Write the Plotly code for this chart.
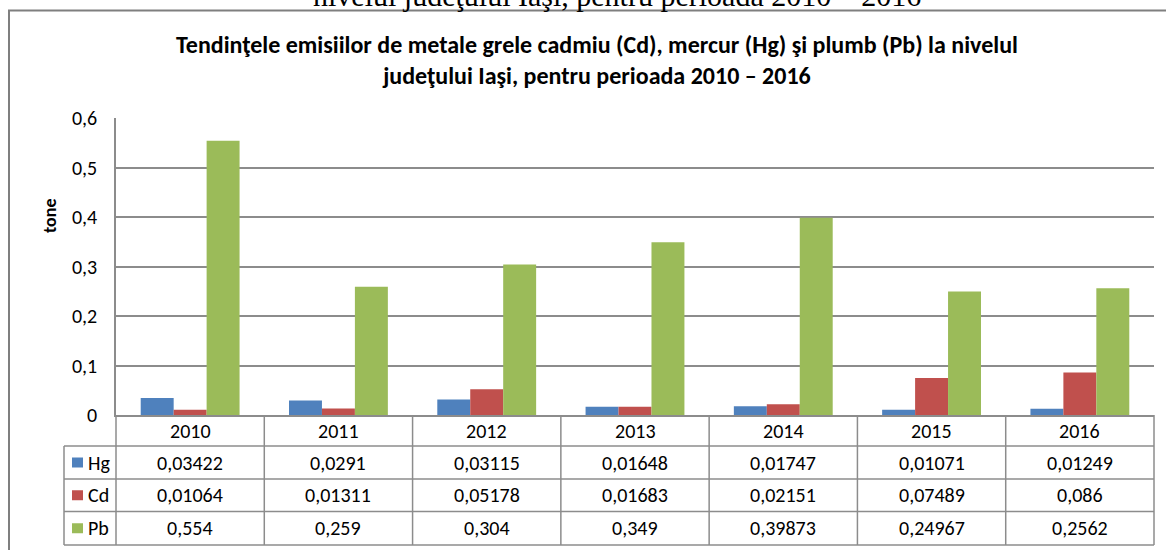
import plotly.graph_objects as go

years = ["2010", "2011", "2012", "2013", "2014", "2015", "2016"]
hg = [0.03422, 0.0291, 0.03115, 0.01648, 0.01747, 0.01071, 0.01249]
cd = [0.01064, 0.01311, 0.05178, 0.01683, 0.02151, 0.07489, 0.086]
pb = [0.554, 0.259, 0.304, 0.349, 0.39873, 0.24967, 0.2562]
hg_lbl = ["0,03422", "0,0291", "0,03115", "0,01648", "0,01747", "0,01071", "0,01249"]
cd_lbl = ["0,01064", "0,01311", "0,05178", "0,01683", "0,02151", "0,07489", "0,086"]
pb_lbl = ["0,554", "0,259", "0,304", "0,349", "0,39873", "0,24967", "0,2562"]
y_ticks = [0, 0.1, 0.2, 0.3, 0.4, 0.5, 0.6]
y_tick_text = ["0", "0,1", "0,2", "0,3", "0,4", "0,5", "0,6"]

series = [("Hg", hg, hg_lbl, "#4F81BD"), ("Cd", cd, cd_lbl, "#C0504D"), ("Pb", pb, pb_lbl, "#9BBB59")]

W, H = 1166, 550
L, R, T, B = 116, 1154, 118, 415
FONT = "Carlito, Calibri, Lato, sans-serif"
GRID = "#8c8c8c"


def X(px):
    return (px - L) / (R - L)


def Y(py):
    return (B - py) / (B - T)


fig = go.Figure()
for name, vals, _, col in series:
    fig.add_trace(go.Bar(x=years, y=vals, name=name, marker=dict(color=col, line=dict(width=0))))

shapes = []
annos = []

# outer frame
shapes.append(dict(type="rect", xref="paper", yref="paper", x0=X(9), x1=X(1175), y0=Y(10.5), y1=Y(560),
                   line=dict(color="#7f7f7f", width=2), fillcolor="rgba(0,0,0,0)", layer="above"))

# table geometry
n = len(years)
cw = (R - L) / n
row_y = [415, 446, 479, 511.5, 545]
for k in range(n + 1):
    xx = L + k * cw
    shapes.append(dict(type="line", xref="paper", yref="paper", x0=X(xx), x1=X(xx), y0=Y(415), y1=Y(545),
                       line=dict(color=GRID, width=1.5)))
shapes.append(dict(type="line", xref="paper", yref="paper", x0=X(64), x1=X(64), y0=Y(446), y1=Y(545),
                   line=dict(color=GRID, width=1.5)))
for yy in row_y[1:]:
    shapes.append(dict(type="line", xref="paper", yref="paper", x0=X(64), x1=X(R), y0=Y(yy), y1=Y(yy),
                       line=dict(color=GRID, width=1.5)))

TF = 20
# year headers
for k, yr in enumerate(years):
    annos.append(dict(text=yr, xref="paper", yref="paper", x=X(L + (k + 0.5) * cw), y=Y(431),
                      showarrow=False, font=dict(family=FONT, size=TF, color="#000"), xanchor="center", yanchor="middle"))

# data rows
for r, (name, vals, lbls, col) in enumerate(series):
    cy = (row_y[r + 1] + row_y[r + 2]) / 2
    shapes.append(dict(type="rect", xref="paper", yref="paper", x0=X(72), x1=X(83), y0=Y(cy - 5), y1=Y(cy + 5),
                       line=dict(width=0), fillcolor=col))
    annos.append(dict(text=name, xref="paper", yref="paper", x=X(86), y=Y(cy), showarrow=False,
                      font=dict(family=FONT, size=TF, color="#000"), xanchor="left", yanchor="middle"))
    for k, lb in enumerate(lbls):
        annos.append(dict(text=lb, xref="paper", yref="paper", x=X(L + (k + 0.5) * cw), y=Y(cy),
                          showarrow=False, font=dict(family=FONT, size=TF, color="#000"), xanchor="center", yanchor="middle"))

# title
annos.append(dict(text="<b>Tendinţele emisiilor de metale grele cadmiu (Cd), mercur (Hg) şi plumb (Pb) la nivelul<br>judeţului Iaşi, pentru perioada 2010 – 2016</b>",
                  xref="paper", yref="paper", x=X(597), y=Y(60), showarrow=False, align="center",
                  font=dict(family=FONT, size=24, color="#000"), xanchor="center", yanchor="middle"))
# cut-off text above the frame
annos.append(dict(text="nivelul judeţului Iaşi, pentru perioada 2010 – 2016",
                  xref="paper", yref="paper", x=X(617), y=Y(-5), showarrow=False,
                  font=dict(family="Liberation Serif, Times New Roman, serif", size=30, color="#000"),
                  xanchor="center", yanchor="middle"))
# y axis title
annos.append(dict(text="<b>tone</b>", xref="paper", yref="paper", x=X(50), y=Y(216), showarrow=False, textangle=-90,
                  font=dict(family=FONT, size=18, color="#000"), xanchor="center", yanchor="middle"))

fig.update_layout(
    width=W, height=H,
    margin=dict(l=L, r=W - R, t=T, b=H - B, autoexpand=False),
    paper_bgcolor="white", plot_bgcolor="white",
    barmode="group", bargap=1.5 / 4.5, bargroupgap=0,
    showlegend=False,
    separators=", ",
    shapes=shapes, annotations=annos,
    xaxis=dict(type="category", showticklabels=False, showgrid=False, showline=True, linecolor=GRID, linewidth=1.5,
               ticks="", zeroline=False),
    yaxis=dict(range=[0, 0.6], tickvals=y_ticks, ticktext=y_tick_text, showgrid=True, gridcolor=GRID, gridwidth=1.5,
               showline=True, linecolor=GRID, linewidth=1.5, zeroline=False, ticks="",
               ticklabelstandoff=13, tickfont=dict(family=FONT, size=20, color="#000")),
)
fig.write_html("out.html", config={"displayModeBar": False}, post_script="document.body.style.margin='0';")
